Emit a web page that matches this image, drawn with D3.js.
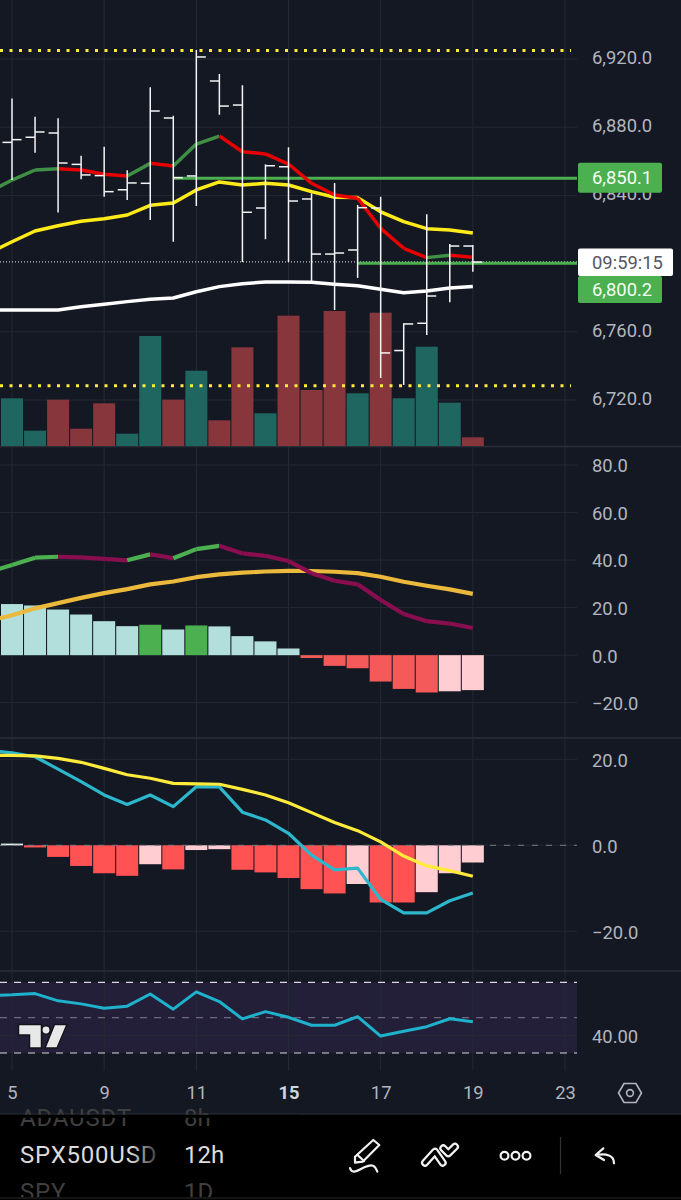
<!DOCTYPE html>
<html>
<head>
<meta charset="utf-8">
<script src="https://cdn.jsdelivr.net/npm/d3@7"></script>
<style>
  html, body { margin: 0; padding: 0; background: #141823; }
  svg { display: block; font-family: Roboto, sans-serif; }
</style>
</head>
<body>
<svg id="chart" width="681" height="1200"></svg>
<script>
// time axis
const dayTickIndex = [0, 4, 8, 12, 16, 20, 24];
const dayTickLabels = ["5", "9", "11", "15", "17", "19", "23"];

// price bars, index 0 sits on the "5" tick
const opens  = [6871.1, 6874.1, 6876.6, 6858.2, 6851.6, 6843.3, 6847.1, 6885.4, 6851.4, 6907.1, 6893.0, 6832.6, 6856.8, 6837.9, 6805.6, 6808.0, 6832.6, 6749.0, 6765.0, 6785.1, 6810.3];
const highs  = [6896.9, 6886.2, 6885.2, 6863.3, 6868.6, 6854.7, 6903.4, 6886.7, 6925.3, 6911.2, 6904.6, 6858.2, 6868.2, 6841.2, 6847.3, 6834.4, 6839.2, 6765.0, 6828.9, 6811.5, 6810.9];
const lows   = [6849.0, 6865.0, 6829.9, 6849.4, 6839.2, 6837.3, 6825.6, 6812.8, 6833.8, 6887.3, 6800.9, 6814.3, 6800.9, 6789.2, 6772.8, 6791.6, 6732.9, 6728.8, 6758.1, 6777.3, 6795.2];
const closes = [6872.7, 6877.2, 6859.0, 6852.0, 6842.2, 6847.3, 6889.5, 6850.4, 6921.2, 6892.4, 6830.1, 6857.4, 6836.7, 6805.6, 6806.2, 6832.8, 6747.6, 6764.6, 6781.0, 6810.3, 6800.9];

// moving averages, first value is one bar left of the visible area
const maFast = [6842.0, 6849.0, 6854.9, 6855.7, 6854.9, 6852.4, 6851.4, 6858.8, 6857.2, 6870.1, 6874.8, 6865.6, 6864.3, 6858.4, 6847.1, 6840.2, 6838.3, 6820.7, 6809.0, 6803.5, 6804.9, 6803.7];
const maMid  = [6806.2, 6812.8, 6819.1, 6822.2, 6824.8, 6826.3, 6828.5, 6834.2, 6835.5, 6843.2, 6847.9, 6846.1, 6847.1, 6846.1, 6842.2, 6838.9, 6838.7, 6830.4, 6824.6, 6820.5, 6819.7, 6817.9];
const maSlow = [6772.8, 6772.8, 6772.8, 6772.8, 6774.7, 6776.1, 6777.7, 6779.1, 6779.8, 6783.5, 6786.5, 6788.2, 6789.2, 6789.2, 6789.0, 6787.9, 6787.0, 6784.9, 6782.9, 6783.9, 6785.7, 6786.5];

const volumes = [47.7, 15.3, 46.3, 17.3, 42.7, 12.3, 110, 46.3, 75.3, 25.7, 98.7, 32.7, 130.3, 56, 135, 52.7, 133.3, 47.7, 99.3, 43.3, 8.7];
const volumeUp = [1, 1, 0, 0, 0, 1, 1, 0, 1, 0, 0, 1, 0, 0, 0, 1, 0, 1, 1, 1, 0];

const priceTicks = [6920, 6880, 6840, 6760, 6720];
const levelDotted = [6925, 6728.4];
const levelHigh = 6850.1;
const levelLow = 6800.2;
const lastPrice = 6801;
const countdown = "09:59:15";

// second panel
const osc1Ticks = [80, 60, 40, 20, 0, -20];
const osc1Hist = [21.5, 20.9, 19.2, 17.1, 14.3, 12.2, 12.8, 10.8, 12.5, 12.1, 8, 5.8, 2.8, -1.2, -4.5, -5.5, -11.1, -14.2, -15.7, -15.2, -14.7];
const osc1HistKind = ["a", "a", "a", "a", "a", "a", "g", "a", "g", "a", "a", "a", "a", "r", "r", "r", "r", "r", "r", "p", "p"];
const osc1Fast = [35, 37.9, 41, 41.4, 41.1, 40.5, 39.9, 42.4, 40.8, 44.6, 46, 42.8, 41.8, 39.6, 34.5, 31.3, 29.8, 23.2, 17.3, 14.3, 13.3, 11.4];
const osc1Slow = [14.4, 16.8, 19.7, 21.9, 24.1, 26.1, 27.8, 29.8, 31, 32.8, 34, 34.7, 35.2, 35.5, 35.4, 35.1, 34.5, 33, 30.9, 29.2, 27.7, 25.8];

// third panel
const osc2Ticks = [20, 0, -20];
const osc2Hist = [0.4, -0.5, -2.7, -4.8, -6.5, -7.1, -4.4, -5.6, -1.1, -0.9, -5.7, -6.3, -7.6, -10.2, -11.2, -9, -13.3, -13.3, -10.9, -6.5, -4];
const osc2HistKind = ["w", "r", "r", "r", "r", "r", "p", "r", "p", "p", "r", "r", "r", "r", "r", "p", "r", "r", "p", "p", "p"];
const osc2Fast = [22, 21.5, 20.6, 17.7, 14.8, 11.7, 9.5, 11.7, 9, 13.6, 13.6, 7.7, 5.9, 2.8, -2.3, -5.7, -5.3, -12.6, -15.7, -15.7, -12.9, -11.1];
const osc2Slow = [20.9, 20.9, 20.8, 20.2, 19.3, 17.9, 16.4, 15.6, 14.4, 14.3, 14.2, 13, 11.7, 9.9, 7.6, 5.3, 3.4, 0.8, -2.5, -4.8, -5.9, -7.2];

// fourth panel
const rsiTicks = [40];
const rsiBands = [70, 50, 30];
const rsiValues = [62.6, 62.9, 63.6, 59.5, 57.8, 55.3, 56.5, 63.4, 54.8, 64.6, 59.1, 49.3, 53.4, 50.2, 45.7, 45.7, 50.6, 39.6, 42.3, 44.9, 49.4, 47.7];

const watchNames = ["ADAUSDT", "SPX500USD", "SPY"];
const watchFrames = ["8h", "12h", "1D"];

const bg = "#141823", gridColor = "#252934", axisColor = "#b2b5be";
const plotRight = 577, barWidth = 22, labelSize = "18.4px";

const svg = d3.select("#chart");
const defs = svg.append("defs");
const fade = defs.append("linearGradient").attr("id", "nameFade")
  .attr("gradientUnits", "userSpaceOnUse").attr("x1", 20).attr("x2", 158).attr("y1", 0).attr("y2", 0);
fade.append("stop").attr("offset", "0.8").attr("stop-color", "#dcdcdc");
fade.append("stop").attr("offset", "1").attr("stop-color", "#333");
defs.append("clipPath").attr("id", "sheet").append("rect").attr("width", 681).attr("height", 1197);

svg.append("rect").attr("width", 681).attr("height", 1200).attr("fill", bg);

// scales
const x = d3.scaleLinear().domain([0, 24]).range([12, 565]);
const yPrice = d3.scaleLinear().domain([6720, 6920]).range([400, 59]);
const yVol = d3.scaleLinear().domain([0, 135]).range([446, 311]);
const yOsc1 = d3.scaleLinear().domain([-20, 80]).range([702.7, 465]);
const yOsc2 = d3.scaleLinear().domain([-20, 20]).range([931.3, 759.3]);
const yRsi = d3.scaleLinear().domain([30, 70]).range([1053, 982.3]);

// rsi band behind everything
svg.append("rect").attr("x", 0).attr("width", plotRight)
  .attr("y", yRsi(70)).attr("height", yRsi(30) - yRsi(70)).attr("fill", "#231f38");

// grid
svg.append("g").selectAll("line").data(dayTickIndex).join("line")
  .attr("x1", d => x(d)).attr("x2", d => x(d)).attr("y1", 0).attr("y2", 1071)
  .attr("stroke", gridColor).attr("stroke-width", 1);

function hGrid(scale, ticks) {
  svg.append("g").selectAll("line").data(ticks).join("line")
    .attr("x1", 0).attr("x2", plotRight)
    .attr("y1", d => scale(d)).attr("y2", d => scale(d))
    .attr("stroke", gridColor).attr("stroke-width", 1);
}
hGrid(yPrice, priceTicks);
hGrid(yOsc1, osc1Ticks);
hGrid(yOsc2, osc2Ticks);
hGrid(yRsi, rsiTicks);

// panel separators
svg.append("g").selectAll("line").data([446.5, 738, 971]).join("line")
  .attr("x1", 0).attr("x2", 681).attr("y1", d => d).attr("y2", d => d)
  .attr("stroke", "#2a2e39").attr("stroke-width", 1.5);

// volume
svg.append("g").selectAll("rect").data(volumes).join("rect")
  .attr("x", (d, i) => x(i) - barWidth / 2).attr("width", barWidth)
  .attr("y", d => yVol(d)).attr("height", d => yVol(0) - yVol(d))
  .attr("fill", (d, i) => volumeUp[i] ? "#1f6560" : "#87363c");

// dotted levels
svg.append("g").selectAll("line").data(levelDotted).join("line")
  .attr("x1", 0).attr("x2", 571).attr("y1", d => yPrice(d)).attr("y2", d => yPrice(d))
  .attr("stroke", "#ffeb3b").attr("stroke-width", 3).attr("stroke-dasharray", "3 6.5");

svg.append("line").attr("x1", 0).attr("x2", plotRight)
  .attr("y1", yPrice(lastPrice)).attr("y2", yPrice(lastPrice))
  .attr("stroke", "#e8e8e8").attr("stroke-width", 1).attr("stroke-dasharray", "1 2");

// green levels
svg.append("line").attr("x1", x(7)).attr("x2", plotRight)
  .attr("y1", yPrice(levelHigh)).attr("y2", yPrice(levelHigh))
  .attr("stroke", "#4caf50").attr("stroke-width", 3);
svg.append("line").attr("x1", x(15)).attr("x2", plotRight)
  .attr("y1", yPrice(levelLow)).attr("y2", yPrice(levelLow))
  .attr("stroke", "#4caf50").attr("stroke-width", 3);

function plainLine(values, scale, color, width) {
  const line = d3.line().x((d, i) => x(i - 1)).y(d => scale(d));
  svg.append("path").attr("d", line(values)).attr("fill", "none")
    .attr("stroke", color).attr("stroke-width", width).attr("stroke-linejoin", "round");
}

// one path per step, coloured by direction
function directionLine(values, scale, upColor, downColor, width) {
  const line = d3.line().x(d => x(d[0])).y(d => scale(d[1]));
  for (let i = 1; i < values.length; i++) {
    const seg = [[i - 2, values[i - 1]], [i - 1, values[i]]];
    svg.append("path").attr("d", line(seg)).attr("fill", "none")
      .attr("stroke", values[i] >= values[i - 1] ? upColor : downColor)
      .attr("stroke-width", width);
  }
}

plainLine(maSlow, yPrice, "#ffffff", 3.5);
plainLine(maMid, yPrice, "#ffeb1a", 3.5);
directionLine(maFast, yPrice, "#3f8f45", "#e60000", 3.5);

// ohlc bars
const ohlc = svg.append("g").attr("stroke", "#f4f4f6").attr("stroke-width", 1.5);
ohlc.selectAll(".stick").data(highs).join("line").attr("class", "stick")
  .attr("x1", (d, i) => x(i)).attr("x2", (d, i) => x(i))
  .attr("y1", d => yPrice(d)).attr("y2", (d, i) => yPrice(lows[i]));
ohlc.selectAll(".open").data(opens).join("line").attr("class", "open")
  .attr("x1", (d, i) => x(i) - 9.5).attr("x2", (d, i) => x(i))
  .attr("y1", d => yPrice(d)).attr("y2", d => yPrice(d));
ohlc.selectAll(".close").data(closes).join("line").attr("class", "close")
  .attr("x1", (d, i) => x(i)).attr("x2", (d, i) => x(i) + 9.5)
  .attr("y1", d => yPrice(d)).attr("y2", d => yPrice(d));

// histograms
const histColors = { a: "#b2dfdb", g: "#4caf50", r: "#f45a5a", p: "#ffcdd2", w: "#dfeee6" };
function histogram(values, kinds, scale) {
  svg.append("g").selectAll("rect").data(values).join("rect")
    .attr("x", (d, i) => x(i) - barWidth / 2).attr("width", barWidth)
    .attr("y", d => Math.min(scale(d), scale(0)))
    .attr("height", d => Math.abs(scale(d) - scale(0)))
    .attr("fill", (d, i) => histColors[kinds[i]]);
}
histogram(osc1Hist, osc1HistKind, yOsc1);
plainLine(osc1Slow, yOsc1, "#ebb93b", 4.2);
directionLine(osc1Fast, yOsc1, "#4caf50", "#880e4f", 4.2);

histColors.r = "#ff5252";
histogram(osc2Hist, osc2HistKind, yOsc2);
svg.append("line").attr("x1", 0).attr("x2", plotRight)
  .attr("y1", yOsc2(0)).attr("y2", yOsc2(0))
  .attr("stroke", "#787b86").attr("stroke-width", 1).attr("stroke-dasharray", "6 8");
plainLine(osc2Fast, yOsc2, "#2cb7cc", 3.2);
plainLine(osc2Slow, yOsc2, "#ffeb3b", 3.2);

// rsi
svg.append("g").selectAll("line").data(rsiBands).join("line")
  .attr("x1", 0).attr("x2", plotRight).attr("y1", d => yRsi(d)).attr("y2", d => yRsi(d))
  .attr("stroke", d => d === 50 ? "#6d6a80" : "#d8d8de").attr("stroke-width", 1.2)
  .attr("stroke-dasharray", "7 7");
plainLine(rsiValues, yRsi, "#1eb2cc", 3);

// tradingview mark
const mark = svg.append("g").attr("fill", "#e8e8e8").attr("stroke", "#131419").attr("stroke-width", 1.5);
mark.append("path").attr("d", "M18.5,1024.5H41.5V1048H29.5V1035H18.5Z");
mark.append("circle").attr("cx", 46).attr("cy", 1030).attr("r", 4.2);
mark.append("path").attr("d", "M54.5,1024.5H67L57,1048H45Z");

// price axes, nudge lines the labels up with the reference text
function yAxis(scale, ticks, fmt, nudge) {
  const g = svg.append("g").attr("transform", "translate(592," + nudge + ")")
    .call(d3.axisRight(scale).tickValues(ticks).tickSize(0).tickPadding(0).tickFormat(fmt));
  g.select(".domain").remove();
  g.selectAll("text").attr("fill", axisColor).style("font-family", "Roboto, sans-serif").style("font-size", labelSize);
}
yAxis(yPrice, priceTicks, d3.format(",.1f"), -1.5);
yAxis(yOsc1, osc1Ticks, d3.format(",.1f"), 1);
yAxis(yOsc2, osc2Ticks, d3.format(",.1f"), 1);
yAxis(yRsi, rsiTicks, d3.format(".2f"), 1);

// price tags
function tag(yTop, h, w, fill, label, color) {
  svg.append("rect").attr("x", 578).attr("y", yTop).attr("width", w).attr("height", h).attr("rx", 2).attr("fill", fill);
  svg.append("text").attr("x", 592).attr("y", yTop + h / 2).attr("dy", ".35em")
    .attr("fill", color).style("font-size", labelSize).text(label);
}
const fmtTag = d3.format(",.1f");
tag(yPrice(levelHigh) - 15.5, 30, 84, "#4caf50", fmtTag(levelHigh), "#f4fff4");
tag(276, 27, 84, "#4caf50", fmtTag(levelLow), "#f4fff4");
tag(248.5, 27.5, 95, "#ffffff", countdown, "#55585f");

// time axis
const xAxis = svg.append("g").attr("transform", "translate(0,1086)")
  .call(d3.axisBottom(x).tickValues(dayTickIndex).tickSize(0).tickPadding(0)
    .tickFormat((d, i) => dayTickLabels[i]));
xAxis.select(".domain").remove();
xAxis.selectAll("text").attr("fill", axisColor)
  .style("font-family", "Roboto, sans-serif").style("font-size", labelSize)
  .filter((d, i) => dayTickLabels[i] === "15")
  .attr("fill", "#d1d4dc").style("font-weight", 700);

// settings hexagon
svg.append("path").attr("d", "M618.5,1093L624,1083.5H636L641.5,1093L636,1102.5H624Z")
  .attr("fill", "none").attr("stroke", axisColor).attr("stroke-width", 1.6);
svg.append("circle").attr("cx", 630).attr("cy", 1093).attr("r", 3.4)
  .attr("fill", "none").attr("stroke", axisColor).attr("stroke-width", 1.6);

// bottom toolbar
svg.append("rect").attr("y", 1114.5).attr("width", 681).attr("height", 85.5).attr("fill", "#000");
svg.append("line").attr("x1", 0).attr("x2", 681).attr("y1", 1114).attr("y2", 1114).attr("stroke", "#2a2e39").attr("stroke-width", 1.2);
svg.append("line").attr("x1", 0).attr("x2", 681).attr("y1", 1198).attr("y2", 1198).attr("stroke", "#2a2a2a").attr("stroke-width", 1.2);

const rowBase = [1126, 1163, 1200];
const wheel = svg.append("g").attr("clip-path", "url(#sheet)").style("font-size", "24px");
wheel.selectAll(".name").data(watchNames).join("text").attr("class", "name")
  .attr("x", 20).attr("y", (d, i) => rowBase[i]).attr("letter-spacing", 0.8)
  .attr("fill", (d, i) => i === 1 ? "url(#nameFade)" : "#3f3f3f").text(d => d);
wheel.selectAll(".frame").data(watchFrames).join("text").attr("class", "frame")
  .attr("x", 184).attr("y", (d, i) => rowBase[i])
  .attr("fill", (d, i) => i === 1 ? "#dcdcdc" : "#3f3f3f").text(d => d);
svg.append("rect").attr("y", 1114.8).attr("width", 300).attr("height", 3).attr("fill", "#000");

const icons = svg.append("g").attr("fill", "none").attr("stroke", "#f2f2f2").attr("stroke-width", 2.2)
  .attr("stroke-linecap", "round").attr("stroke-linejoin", "round");
icons.append("path").attr("d", "M355,1162.7V1156.7L373.3,1140L379.3,1145L362.7,1161.7Z");
icons.append("path").attr("d", "M357.5,1155L364,1161");
icons.append("path").attr("d", "M350,1168C352,1175 358,1170 365,1167S375,1165 377.3,1171.7");
icons.append("path").attr("d", "M425,1162.7L435,1151.7L442.7,1162.7M443.3,1148.3L448.3,1153.3L455,1146.7")
  .attr("stroke-width", 8);
icons.append("path").attr("d", "M425,1162.7L435,1151.7L442.7,1162.7M443.3,1148.3L448.3,1153.3L455,1146.7")
  .attr("stroke", "#000").attr("stroke-width", 3.6);
icons.selectAll("circle").data([504.5, 515.5, 526.5]).join("circle")
  .attr("cx", d => d).attr("cy", 1155.7).attr("r", 3.9);
svg.append("line").attr("x1", 560.5).attr("x2", 560.5).attr("y1", 1137).attr("y2", 1174).attr("stroke", "#333").attr("stroke-width", 1.2);
icons.append("path").attr("d", "M603.3,1148.3L595.7,1155L604,1160M595.7,1155C606.7,1153.3 614,1155 614,1163.3");
</script>
</body>
</html>
